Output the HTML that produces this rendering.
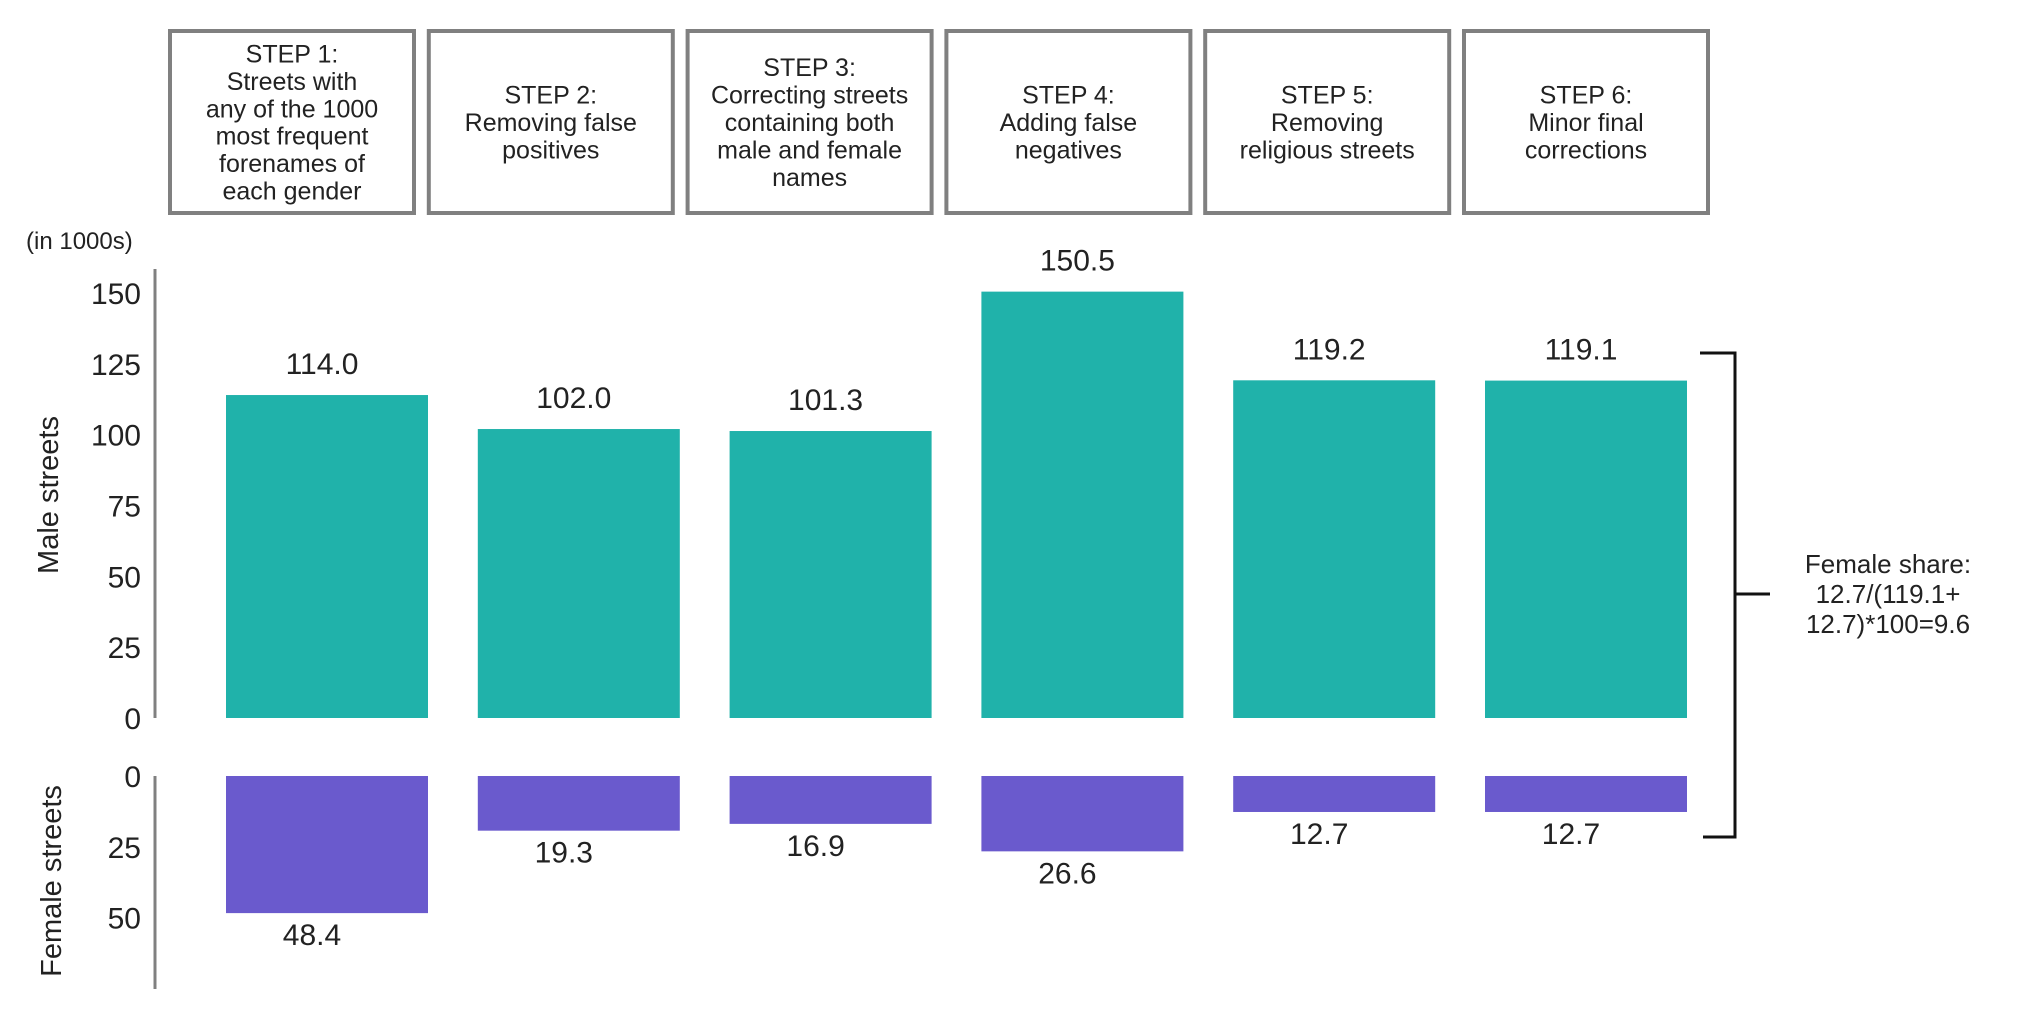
<!DOCTYPE html>
<html><head><meta charset="utf-8">
<style>
html,body{margin:0;padding:0;background:#fff;}
svg{display:block;font-family:"Liberation Sans",Arial,sans-serif;}
</style></head>
<body>
<svg id="chart" width="2017" height="1010" viewBox="0 0 2017 1010" xmlns="http://www.w3.org/2000/svg"></svg>
<script>
const steps = [
  ["STEP 1:","Streets with","any of the 1000","most frequent","forenames of","each gender"],
  ["STEP 2:","Removing false","positives"],
  ["STEP 3:","Correcting streets","containing both","male and female","names"],
  ["STEP 4:","Adding false","negatives"],
  ["STEP 5:","Removing","religious streets"],
  ["STEP 6:","Minor final","corrections"]
];
const maleValues = [114.0, 102.0, 101.3, 150.5, 119.2, 119.1];
const femaleValues = [48.4, 19.3, 16.9, 26.6, 12.7, 12.7];
const maleTicks = [0, 25, 50, 75, 100, 125, 150];
const femaleTicks = [0, 25, 50];
const noteLines = ["Female share:", "12.7/(119.1+", "12.7)*100=9.6"];

const NS = "http://www.w3.org/2000/svg";
const svg = document.getElementById('chart');
function mk(tag, attrs, parent){
  const e = document.createElementNS(NS, tag);
  for (const k in attrs) e.setAttribute(k, attrs[k]);
  (parent||svg).appendChild(e);
  return e;
}
const PX = 2.833;
const maleZero = 718, femaleZero = 776;
const yMale = v => maleZero - v*PX;
const yFemale = v => femaleZero + v*PX;
const barCenter = i => 327 + i*251.8;
const barW = 202;
const boxCenter = i => 292 + i*258.8;

// step boxes
steps.forEach((lines, i) => {
  const g = mk('g', {});
  
  
  const cx = boxCenter(i);
  mk('rect', {x: cx-122, y: 31, width: 244, height: 182, fill: '#fff', stroke: '#808080', 'stroke-width': 4}, g);
  const lh = 27.4;
  const y0 = 122 - (lines.length-1)*lh/2 + 9;
  lines.forEach((t, j) => {
    const tx = mk('text', {x: cx, y: y0 + j*lh, 'text-anchor': 'middle', 'font-size': 25, fill: '#222'}, g);
    tx.textContent = t;
  });
});

// unit label
const unit = mk('text', {x: 26, y: 249, 'font-size': 24, fill: '#222'});


unit.textContent = '(in 1000s)';

// axes
const ma = mk('line', {x1: 155, y1: 269, x2: 155, y2: 718, stroke: '#808080', 'stroke-width': 3});


const fa = mk('line', {x1: 155, y1: 776, x2: 155, y2: 989, stroke: '#808080', 'stroke-width': 3});



maleTicks.forEach(v => {
  const t = mk('text', {x: 141, y: yMale(v)+11, 'text-anchor': 'end', 'font-size': 30, fill: '#222'});
  
  
  t.textContent = v;
});
femaleTicks.forEach(v => {
  const t = mk('text', {x: 141, y: yFemale(v)+11, 'text-anchor': 'end', 'font-size': 30, fill: '#222'});
  
  
  t.textContent = v;
});

const mt = mk('text', {x: 0, y: 0, 'text-anchor': 'middle', 'font-size': 29, fill: '#222', transform: 'translate(58,495) rotate(-90)'});


mt.textContent = 'Male streets';
const ft = mk('text', {x: 0, y: 0, 'text-anchor': 'middle', 'font-size': 29, fill: '#222', transform: 'translate(61,881) rotate(-90)'});


ft.textContent = 'Female streets';

// bars
maleValues.forEach((v, i) => {
  const cx = barCenter(i);
  const r = mk('rect', {x: cx-barW/2, y: yMale(v), width: barW, height: maleZero - yMale(v), fill: '#20B2AA'});
  
  
  const t = mk('text', {x: cx-5, y: yMale(v)-21, 'text-anchor': 'middle', 'font-size': 30, fill: '#222'});
  
  
  t.textContent = v.toFixed(1);
});
femaleValues.forEach((v, i) => {
  const cx = barCenter(i);
  const r = mk('rect', {x: cx-barW/2, y: femaleZero, width: barW, height: yFemale(v) - femaleZero, fill: '#6A5ACD'});
  
  
  const t = mk('text', {x: cx-15, y: yFemale(v)+32, 'text-anchor': 'middle', 'font-size': 30, fill: '#222'});
  
  
  t.textContent = v.toFixed(1);
});

// bracket
const br = mk('path', {d: 'M1700 353 H1735 V837 H1703 M1735 594 H1770', fill: 'none', stroke: '#111', 'stroke-width': 3});


const ng = mk('g', {});


noteLines.forEach((s, j) => {
  const t = mk('text', {x: 1888, y: 573 + j*30, 'text-anchor': 'middle', 'font-size': 26, fill: '#222'}, ng);
  t.textContent = s;
});
</script>
</body></html>
